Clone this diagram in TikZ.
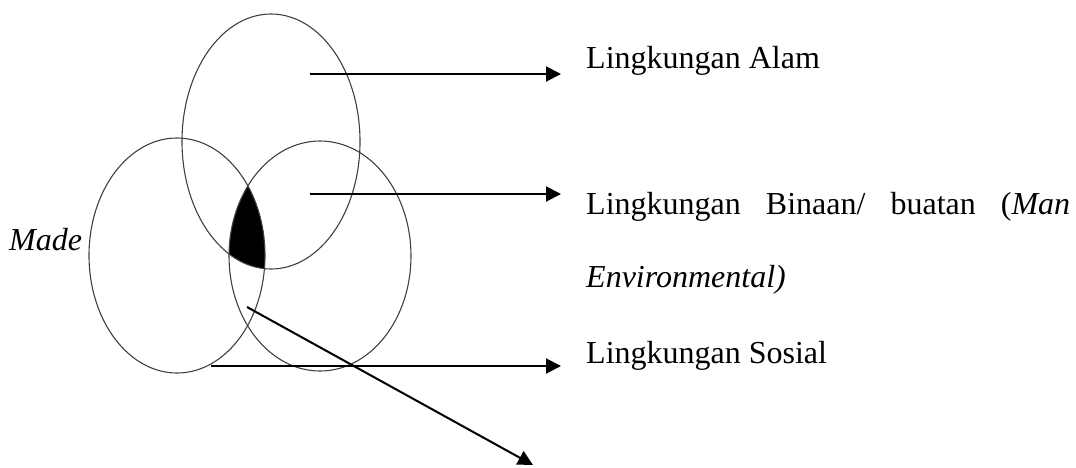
\documentclass[tikz,border=0pt]{standalone}
\usepackage{fontspec}
\setmainfont{Liberation Serif}
\usetikzlibrary{arrows.meta}
\begin{document}
\begin{tikzpicture}[x=1pt,y=-1pt,
  ring/.style={draw=black!75,line width=1.1pt},
  pointer/.style={line width=2pt,-{Triangle[length=15pt,width=15pt]}},
  label/.style={anchor=base west,inner sep=0pt,font=\fontsize{32}{38}\selectfont}]
\useasboundingbox (0,0) rectangle (1076,467);
% ellipses
\def\topE{(271,141.5) ellipse [x radius=89,y radius=127.5]}
\def\leftE{(177,255.5) ellipse [x radius=88,y radius=117.5]}
\def\rightE{(320,256) ellipse [x radius=91,y radius=115]}
\begin{scope}
  \clip \topE;
  \clip \leftE;
  \fill[black] \rightE;
\end{scope}
\draw[ring] \topE;
\draw[ring] \leftE;
\draw[ring] \rightE;
% coordinates
\coordinate (s1) at (310,74);
\coordinate (e1) at (561,74);
\coordinate (s2) at (310,194);
\coordinate (e2) at (561,194);
\coordinate (s3) at (211,366);
\coordinate (e3) at (561,366);
\coordinate (s4) at (247,307);
\coordinate (e4) at (533,465);
\draw[pointer] (s1) -- (e1);
\draw[pointer] (s2) -- (e2);
\draw[pointer] (s3) -- (e3);
\draw[pointer] (s4) -- (e4);
% labels
\node[label] (alam) at (586,68) {Lingkungan Alam};
\node[label] (binaan) at (586,214) {\makebox[484pt][s]{Lingkungan\hfill Binaan/\hfill buatan\hfill (\textit{Man}}};
\node[label] (env) at (586,287) {\textit{Environmental)}};
\node[label] (sosial) at (586,363) {Lingkungan Sosial};
\node[label] (made) at (9,250) {\textit{Made}};
\end{tikzpicture}
\end{document}
